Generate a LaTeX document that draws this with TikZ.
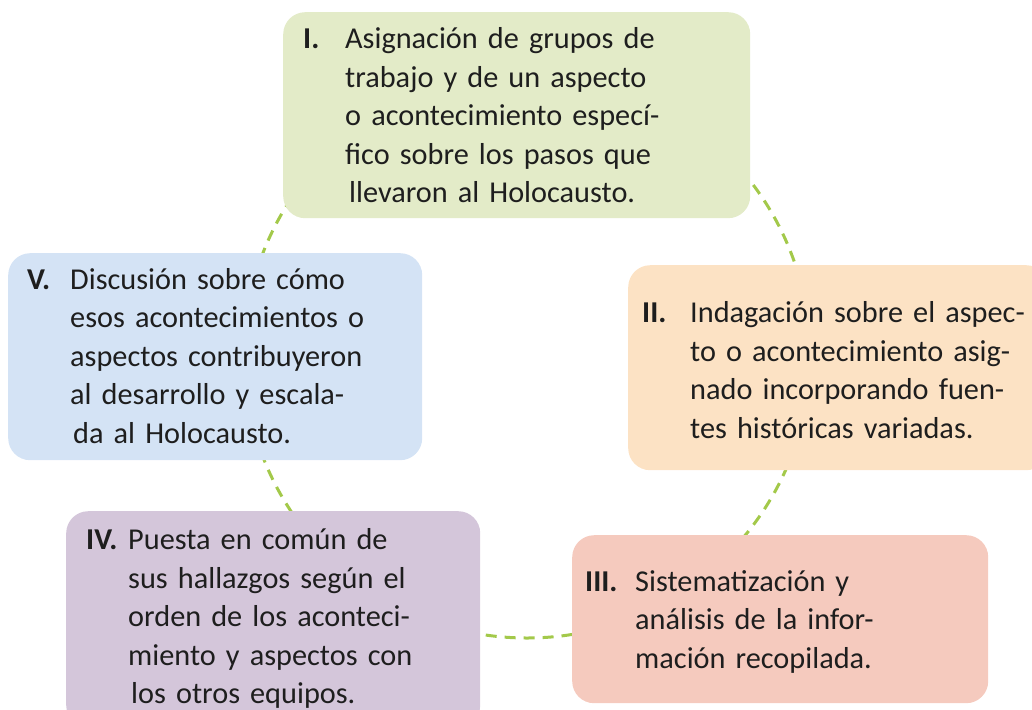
\documentclass[tikz,border=0pt]{standalone}
\usepackage{fontspec}
\setmainfont{Carlito}
\usepackage{tikz}
\definecolor{ringgreen}{HTML}{A3C94A}
\definecolor{fillone}{HTML}{E3EBC8}
\definecolor{filltwo}{HTML}{FCE2C4}
\definecolor{fillthree}{HTML}{F5CABE}
\definecolor{fillfour}{HTML}{D4C6DA}
\definecolor{fillfive}{HTML}{D4E3F5}
\definecolor{inktext}{HTML}{1E1E1E}
% numeral, numeral width, downward shift, lines
\newcommand{\cardtext}[4]{\raisebox{-#3}[\height][\depth]{\begin{tabular}{@{}p{#2}@{}l@{}}\textbf{#1} & #4\end{tabular}}}

\begin{document}
\begin{tikzpicture}[x=1pt, y=-1pt,
    card/.style={rounded corners=22pt, anchor=north west, inner xsep=20pt,
                 inner ysep=0pt, align=left, text=inktext,
                 font=\fontsize{30.3}{38.5}\selectfont},
    ring/.style={draw=ringgreen, line width=3pt, dash pattern=on 11pt off 8pt}]
    \useasboundingbox (0,0) rectangle (1032,709);
    % dashed cycle behind the cards
    \draw[ring] (527,355) circle[radius=283];
    \node[card, fill=fillone, text width=427pt, minimum height=206pt] (one) at (283,12)
      {\cardtext{I.}{42pt}{3pt}{Asignación de grupos de\\ & trabajo y de un aspecto\\
       & o acontecimiento especí-\\ & fico sobre los pasos que\\
       & \hspace{4pt}llevaron al Holocausto.}};
    \node[card, fill=filltwo, inner xsep=14pt, text width=392pt, minimum height=205pt] (two) at (628,265)
      {\cardtext{II.}{48pt}{5pt}{Indagación sobre el aspec-\\ & to o acontecimiento asig-\\
       & nado incorporando fuen-\\ & tes históricas variadas.}};
    \node[card, fill=fillthree, inner xsep=13pt, text width=390pt, minimum height=168pt] (three) at (572,535)
      {\cardtext{III.}{50pt}{3pt}{Sistematización y\\ & análisis de la infor-\\
       & mación recopilada.}};
    \node[card, fill=fillfour, text width=374pt, minimum height=216pt] (four) at (66,511)
      {\cardtext{IV.}{42pt}{0pt}{Puesta en común de\\ & sus hallazgos según el\\
       & orden de los aconteci-\\ & miento y aspectos con\\
       & \hspace{3pt}los otros equipos.}};
    \node[card, fill=fillfive, inner xsep=19pt, text width=376pt, minimum height=207pt] (five) at (8,253)
      {\cardtext{V.}{43pt}{2pt}{Discusión sobre cómo\\ & esos acontecimientos o\\
       & aspectos contribuyeron\\ & al desarrollo y escala-\\
       & \hspace{3pt}da al Holocausto.}};
\end{tikzpicture}
\end{document}
